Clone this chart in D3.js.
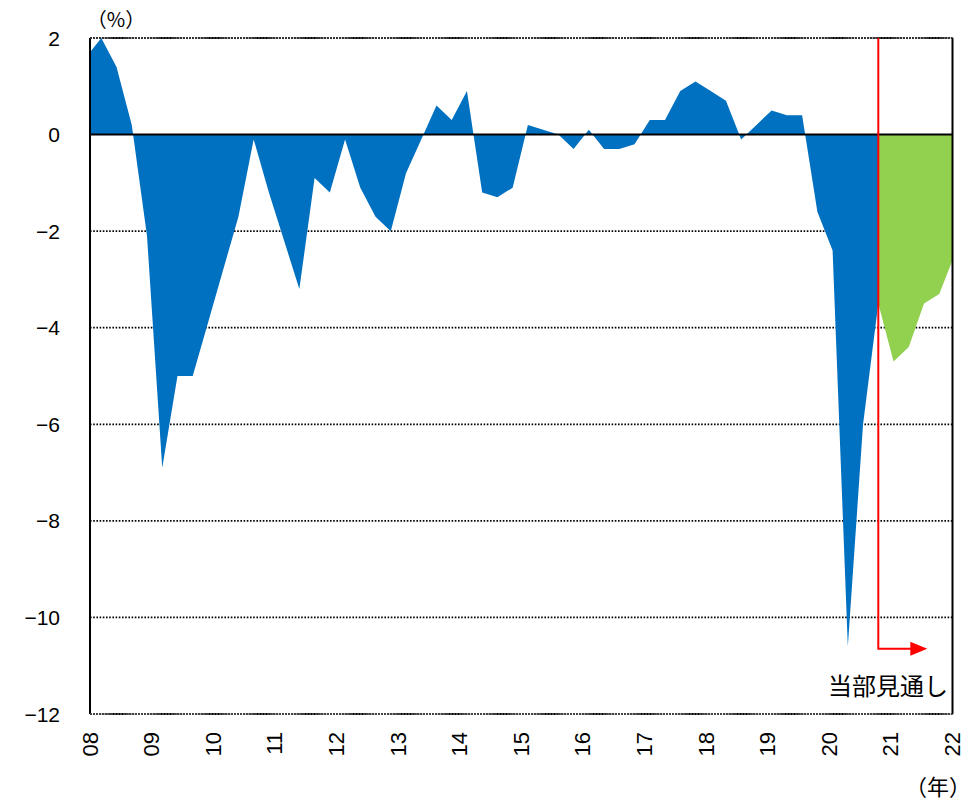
<!DOCTYPE html>
<html>
<head>
<meta charset="utf-8">
<script src="https://cdn.jsdelivr.net/npm/d3@7"></script>
<style>
  html, body { margin: 0; padding: 0; background: #fff; }
  svg { display: block; }
  .tick-label { font-family: "Liberation Sans", Arial, sans-serif; fill: #000; }
  .jp { font-family: "Noto Sans CJK JP", sans-serif; fill: #000; }
</style>
</head>
<body>
<svg id="chart" width="978" height="800"></svg>
<script>
// ---------- data ----------
const quarters = [
  "07Q4",
  "08Q1","08Q2","08Q3","08Q4",
  "09Q1","09Q2","09Q3","09Q4",
  "10Q1","10Q2","10Q3","10Q4",
  "11Q1","11Q2","11Q3","11Q4",
  "12Q1","12Q2","12Q3","12Q4",
  "13Q1","13Q2","13Q3","13Q4",
  "14Q1","14Q2","14Q3","14Q4",
  "15Q1","15Q2","15Q3","15Q4",
  "16Q1","16Q2","16Q3","16Q4",
  "17Q1","17Q2","17Q3","17Q4",
  "18Q1","18Q2","18Q3","18Q4",
  "19Q1","19Q2","19Q3","19Q4",
  "20Q1","20Q2","20Q3","20Q4"
];
const actual = [
  1.6,
  2.0, 1.4, 0.2, -2.1,
  -6.9, -5.0, -5.0, -3.9,
  -2.8, -1.7, -0.1, -1.2,
  -2.2, -3.2, -0.9, -1.2,
  -0.1, -1.1, -1.7, -2.0,
  -0.8, -0.1, 0.6, 0.3,
  0.9, -1.2, -1.3, -1.1,
  0.2, 0.1, 0.0, -0.3,
  0.1, -0.3, -0.3, -0.2,
  0.3, 0.3, 0.9, 1.1,
  0.9, 0.7, -0.1, 0.2,
  0.5, 0.4, 0.4, -1.6,
  -2.4, -10.6, -6.0, -3.5
];
const forecastQuarters = ["20Q4","21Q1","21Q2","21Q3","21Q4","22Q1"];
const forecast = [-3.5, -4.7, -4.4, -3.5, -3.3, -2.5];

const yearLabels = ["08","09","10","11","12","13","14","15","16","17","18","19","20","21","22"];
const yTicks = [2, 0, -2, -4, -6, -8, -10, -12];
const forecastLabel = "当部見通し";
const yUnit = "（%）";
const xUnit = "（年）";

// ---------- layout ----------
const plot = { left: 90, right: 952.5, top: 38, bottom: 714 };
const svg = d3.select("#chart");

const qIndex = q => {
  const yy = +q.slice(0, 2), qq = +q.slice(3);
  return (yy - 8) * 4 + (qq - 1); // 08Q1 -> 0
};

const xQ = d3.scaleLinear().domain([0, 51]).range([101.3, 878.3]);
const xYear = d3.scalePoint().domain(yearLabels).range([plot.left, plot.right]);
const y = d3.scaleLinear().domain([-12, 2]).range([plot.bottom, plot.top]);

// clip
svg.append("defs").append("clipPath").attr("id", "plotClip")
  .append("rect")
  .attr("x", plot.left).attr("y", plot.top)
  .attr("width", plot.right - plot.left).attr("height", plot.bottom - plot.top);

// gridlines (dotted)
svg.append("g")
  .selectAll("line")
  .data(yTicks.filter(t => t !== 0))
  .join("line")
  .attr("x1", plot.left).attr("x2", plot.right)
  .attr("y1", d => y(d)).attr("y2", d => y(d))
  .attr("stroke", "#000")
  .attr("stroke-width", 1.8)
  .attr("stroke-dasharray", "1.6,1.6");

// areas
const area = d3.area()
  .x(d => xQ(qIndex(d.q)))
  .y0(y(0))
  .y1(d => y(d.v));

const actualData = quarters.map((q, i) => ({ q, v: actual[i] }));
const forecastData = forecastQuarters.map((q, i) => ({ q, v: forecast[i] }));

const g = svg.append("g").attr("clip-path", "url(#plotClip)");
g.append("path").datum(actualData).attr("d", area).attr("fill", "#0070C0");
g.append("path").datum(forecastData).attr("d", area).attr("fill", "#92D050");

// zero line
svg.append("line")
  .attr("x1", plot.left).attr("x2", plot.right)
  .attr("y1", y(0)).attr("y2", y(0))
  .attr("stroke", "#000").attr("stroke-width", 2);

// frame
svg.append("line").attr("x1", plot.left).attr("x2", plot.left)
  .attr("y1", plot.top).attr("y2", plot.bottom).attr("stroke", "#000").attr("stroke-width", 2);
svg.append("line").attr("x1", plot.right).attr("x2", plot.right)
  .attr("y1", plot.top).attr("y2", plot.bottom).attr("stroke", "#000").attr("stroke-width", 2);
svg.append("line").attr("x1", plot.left).attr("x2", plot.right)
  .attr("y1", plot.top).attr("y2", plot.top).attr("stroke", "#333").attr("stroke-width", 1.8)
  .attr("stroke-dasharray", "2,1");
svg.append("line").attr("x1", plot.left).attr("x2", plot.right)
  .attr("y1", plot.bottom).attr("y2", plot.bottom).attr("stroke", "#444").attr("stroke-width", 1.8)
  .attr("stroke-dasharray", "2,1");

// y-axis labels
svg.append("g")
  .selectAll("text")
  .data(yTicks)
  .join("text")
  .attr("class", "tick-label")
  .style("font-size", "21px")
  .attr("x", 60)
  .attr("y", d => y(d))
  .attr("text-anchor", "end")
  .attr("dominant-baseline", "central")
  .text(d => d < 0 ? "\u2212" + Math.abs(d) : String(d));

// x-axis labels (rotated)
svg.append("g")
  .selectAll("text")
  .data(yearLabels)
  .join("text")
  .attr("class", "tick-label")
  .style("font-size", "22px")
  .attr("transform", d => `translate(${xYear(d)},${732}) rotate(-90)`)
  .attr("text-anchor", "end")
  .attr("dominant-baseline", "central")
  .text(d => d);

// units
svg.append("text").attr("class", "jp")
  .attr("x", 116).attr("y", 27)
  .attr("text-anchor", "middle")
  .style("font-size", "20px")
  .text(yUnit);
svg.append("text").attr("class", "jp")
  .attr("x", 938).attr("y", 795)
  .attr("text-anchor", "middle")
  .style("font-size", "22px")
  .text(xUnit);

// forecast marker (red line + arrow)
const xRed = xQ(qIndex("20Q4"));
const yArrow = y(-10.65);
svg.append("path")
  .attr("d", `M${xRed},${plot.top} V${yArrow} H${xRed + 34}`)
  .attr("fill", "none")
  .attr("stroke", "#FF0000")
  .attr("stroke-width", 2);
svg.append("path")
  .attr("d", `M${xRed + 32},${yArrow - 7} L${xRed + 49},${yArrow} L${xRed + 32},${yArrow + 7} Z`)
  .attr("fill", "#FF0000");

svg.append("text").attr("class", "jp")
  .attr("x", 948).attr("y", 695)
  .attr("text-anchor", "end")
  .style("font-size", "24px")
  .text(forecastLabel);
</script>
</body>
</html>
